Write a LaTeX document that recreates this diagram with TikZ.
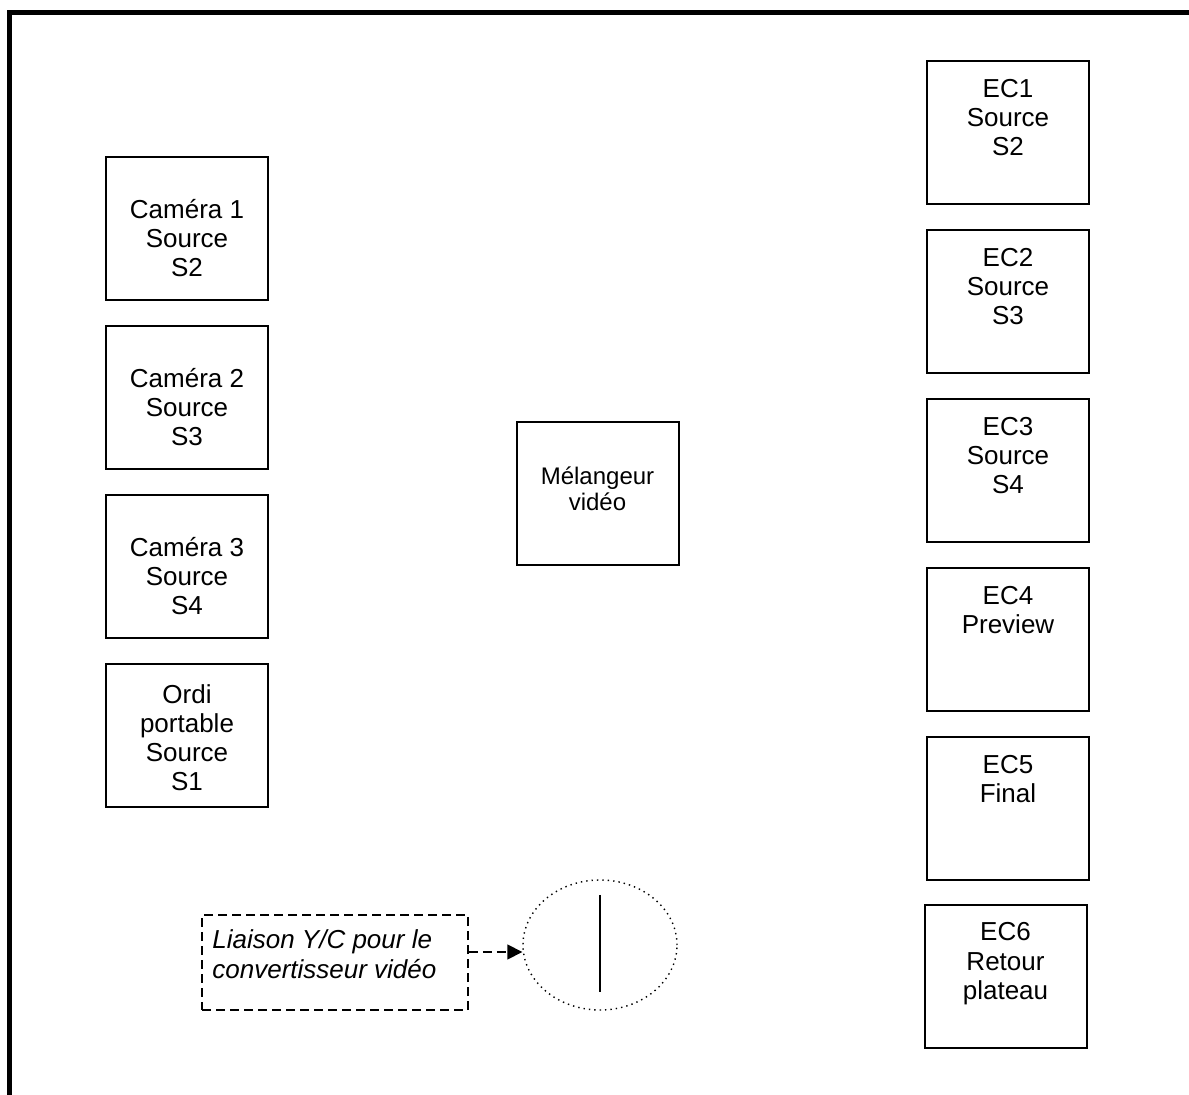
\documentclass[tikz,border=0pt]{standalone}
\usepackage{fontspec}
\setmainfont{Liberation Sans}
\usetikzlibrary{arrows.meta,shapes.geometric}
\begin{document}
\begin{tikzpicture}[x=0.5pt,y=-0.5pt,
  box/.style={draw,line width=1pt,minimum width=81pt,minimum height=71.5pt,inner sep=0pt},
  txt/.style={anchor=base,inner sep=0pt,align=center,font=\fontsize{13}{14.5}\selectfont},
  longdash/.style={dash pattern=on 4.5pt off 2.5pt}]
\useasboundingbox (0,0) rectangle (1189,1095);
\draw[line width=2.6pt] (9.5,1100) -- (9.5,12.5) -- (1195,12.5);
% left column
\node[box] (cam1) at (187,228.5) {};
\node[box] (cam2) at (187,397.5) {};
\node[box] (cam3) at (187,566.5) {};
\node[box] (ordi) at (187,735.5) {};
\node[txt] (tcam1) at (187,277) {Caméra 1\\Source\\S2};
\node[txt] (tcam2) at (187,446) {Caméra 2\\Source\\S3};
\node[txt] (tcam3) at (187,615) {Caméra 3\\Source\\S4};
\node[txt] (tordi) at (187,791) {Ordi\\portable\\Source\\S1};
% center
\node[box] (mix) at (597.5,494) {};
\node[txt,font=\fontsize{12}{13}\selectfont] (tmix) at (597.5,511) {Mélangeur\\vidéo};
% right column
\node[box] (ec1) at (1008,132.5) {};
\node[box] (ec2) at (1008,301.5) {};
\node[box] (ec3) at (1008,470.5) {};
\node[box] (ec4) at (1008,639.5) {};
\node[box] (ec5) at (1008,808.5) {};
\node[box] (ec6) at (1005.5,976.5) {};
\node[txt] (tec1) at (1008,156) {EC1\\Source\\S2};
\node[txt] (tec2) at (1008,325) {EC2\\Source\\S3};
\node[txt] (tec3) at (1008,494) {EC3\\Source\\S4};
\node[txt] (tec4) at (1008,634) {EC4\\Preview};
\node[txt] (tec5) at (1008,803) {EC5\\Final};
\node[txt] (tec6) at (1005.5,999) {EC6\\Retour\\plateau};
% bottom
\node[draw,longdash,line width=0.8pt,minimum width=133pt,minimum height=47.5pt,inner sep=0pt] (note) at (335,962.5) {};
\node[anchor=base west,inner sep=0pt,align=left,font=\fontsize{13}{15}\selectfont\itshape] (tnote) at (212,978) {Liaison Y/C pour le\\convertisseur vidéo};
\node[draw,dotted,line width=0.7pt,ellipse,minimum width=77pt,minimum height=65pt,inner sep=0pt] (conv) at (600,945) {};
\coordinate (lt) at (600,895);
\coordinate (lb) at (600,992);
\draw[line width=1pt] (lt) -- (lb);
\draw[longdash,line width=0.8pt,-{Triangle[length=7.5pt,width=7.5pt]}] (note.east |- 0,952) -- (conv.west |- 0,952);
\end{tikzpicture}
\end{document}
